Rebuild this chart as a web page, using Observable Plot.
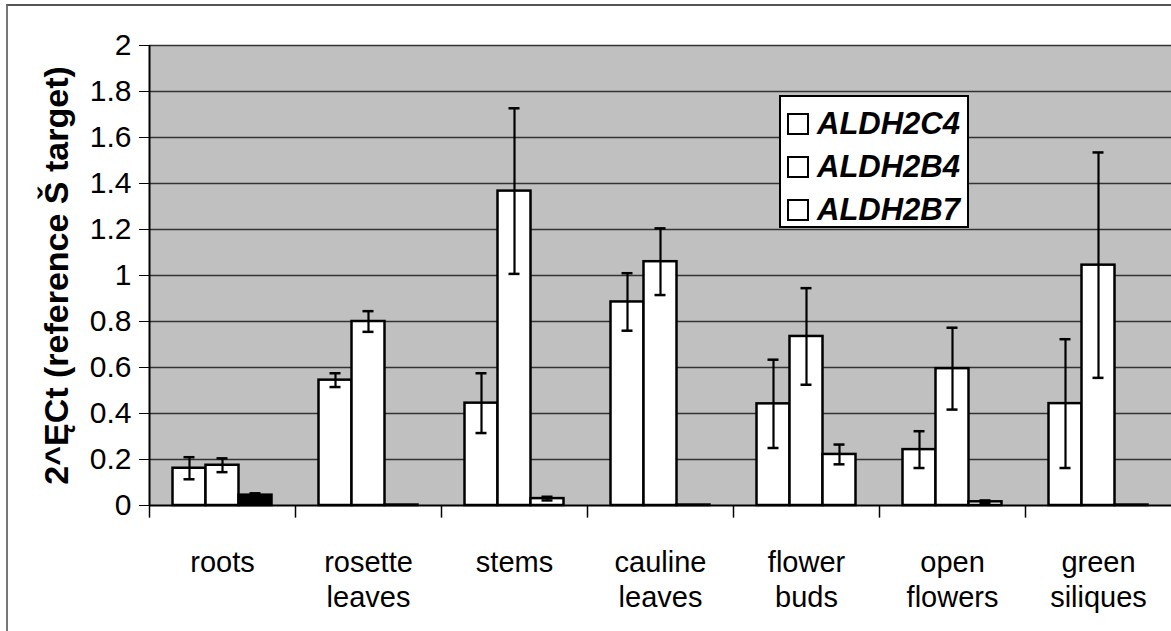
<!DOCTYPE html>
<html><head><meta charset="utf-8">
<script src="https://cdn.jsdelivr.net/npm/d3@7"></script>
<script src="https://cdn.jsdelivr.net/npm/@observablehq/plot@0.6"></script>
<style>
body{margin:0;background:#fff;font-family:"Liberation Sans",Arial,sans-serif;}
#wrap{position:relative;width:1171px;height:631px;overflow:hidden;}
#border{position:absolute;left:6px;top:4px;width:1300px;height:800px;border-left:2px solid #777;border-top:2px solid #555;pointer-events:none;}
#legend{position:absolute;left:779px;top:95px;width:190px;height:133px;background:#fff;border:2px solid #000;box-sizing:border-box;padding-top:5px;}
.row{display:flex;align-items:center;height:43px;padding-left:6px;font-weight:bold;font-style:italic;font-size:31px;}
.sw{width:18px;height:18px;border:2px solid #000;background:#fff;margin-right:8px;flex:none;}
svg{position:absolute;left:0;top:0;}
</style>
</head><body>
<div id="wrap"></div>
<script>
const tissues = ["roots","rosette leaves","stems","cauline leaves","flower buds","open flowers","green siliques"];
const genes = ["ALDH2C4","ALDH2B4","ALDH2B7"];
const aldh2c4    = [0.162,0.545,0.445,0.885,0.442,0.243,0.443];
const aldh2c4Err = [0.048,0.030,0.130,0.125,0.192,0.080,0.280];
const aldh2b4    = [0.175,0.800,1.367,1.060,0.735,0.595,1.045];
const aldh2b4Err = [0.030,0.045,0.360,0.145,0.210,0.178,0.490];
const aldh2b7    = [0.045,0.002,0.030,0.002,0.222,0.016,0.002];
const aldh2b7Err = [0.008,0,0.008,0,0.043,0.006,0];
const yTicks = [0,0.2,0.4,0.6,0.8,1,1.2,1.4,1.6,1.8,2];
const yLabel = "2^ĘCt (reference Š target)";

const series = {ALDH2C4:[aldh2c4,aldh2c4Err], ALDH2B4:[aldh2b4,aldh2b4Err], ALDH2B7:[aldh2b7,aldh2b7Err]};
const data = tissues.flatMap((t,i)=>genes.map(g=>({tissue:t, gene:g, value:series[g][0][i], err:series[g][1][i]})));

const W = 1171, H = 631, mL = 149, mR = 0, mT = 45, mB = 126;
const band = (W - mL - mR) / tissues.length;
const barW = 33, capW = 11;
const offsets = {ALDH2C4:-barW, ALDH2B4:0, ALDH2B7:barW};

const marks = [
  Plot.frame({fill:"#c0c0c0", stroke:null}),
  Plot.ruleY(yTicks.slice(1), {stroke:"#333", strokeWidth:1.6}),
  Plot.axisY({ticks:yTicks, tickSize:10, tickPadding:8, fontSize:30, tickFormat:d=>String(d), label:null, stroke:"#000"}),
  Plot.axisX({tickSize:0, tickPadding:41, fontSize:29, lineHeight:1.22, tickFormat:d=>d.replace(" ","\n"), label:null}),
  Plot.ruleX(tissues, {x:d=>d, dx:-band/2, y1:0, y2:-0.055, stroke:"#000", strokeWidth:1.5}),
  Plot.ruleX(tissues.slice(0,1), {x:d=>d, dx:-band/2, y1:0, y2:2, stroke:"#000", strokeWidth:2}),
  Plot.ruleY([0], {stroke:"#000", strokeWidth:2}),
  Plot.text([yLabel], {frameAnchor:"left", rotate:-90, dx:-92, fontSize:34, fontWeight:"bold", textAnchor:"middle", fill:"#000"})
];
for (const g of genes) {
  const d = data.filter(r=>r.gene===g);
  const inset = (band - barW)/2, capInset = (band - capW)/2;
  marks.push(Plot.barY(d, {x:"tissue", y:"value", dx:offsets[g], insetLeft:inset, insetRight:inset,
    fill:r=> (r.tissue==="roots" && r.gene==="ALDH2B7") ? "black" : "white", stroke:"#000", strokeWidth:2.5}));
  const e = d.filter(r=>r.err>0);
  marks.push(Plot.ruleX(e, {x:"tissue", y1:r=>r.value-r.err, y2:r=>r.value+r.err, dx:offsets[g], stroke:"#000", strokeWidth:2.2}));
  marks.push(Plot.tickY(e, {x:"tissue", y:r=>r.value+r.err, dx:offsets[g], insetLeft:capInset, insetRight:capInset, stroke:"#000", strokeWidth:2.5}));
  marks.push(Plot.tickY(e, {x:"tissue", y:r=>r.value-r.err, dx:offsets[g], insetLeft:capInset, insetRight:capInset, stroke:"#000", strokeWidth:2.5}));
}

const chart = Plot.plot({
  width: W, height: H, marginLeft: mL, marginRight: mR, marginTop: mT, marginBottom: mB,
  style: {fontFamily: "'Liberation Sans', Arial, sans-serif", color: "#000", background: "transparent", overflow: "visible"},
  x: {domain: tissues, padding: 0},
  y: {domain: [0, 2]},
  marks
});
const wrap = document.getElementById("wrap");
wrap.appendChild(chart);
const border = document.createElement("div"); border.id = "border"; wrap.appendChild(border);
const legend = document.createElement("div"); legend.id = "legend";
for (const g of genes) {
  const row = document.createElement("div"); row.className = "row";
  const sw = document.createElement("span"); sw.className = "sw";
  const lab = document.createElement("span"); lab.textContent = g;
  row.appendChild(sw); row.appendChild(lab); legend.appendChild(row);
}
wrap.appendChild(legend);
</script>
</body></html>
